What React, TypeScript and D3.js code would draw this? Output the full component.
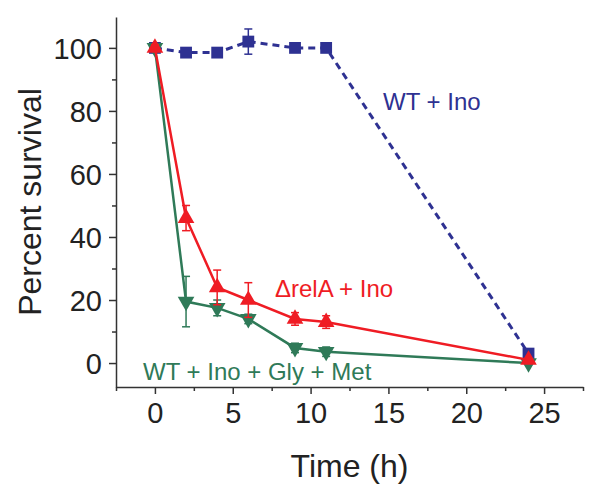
import React, { useEffect, useRef } from 'react';
import * as d3 from 'd3';

// Time points (h)
const times = [0, 2, 4, 6, 9, 11, 24];

// WT + Ino
const wtIno = [100, 98.5, 98.5, 102, 100, 100, 3];
const wtInoErr = [1, 0.8, 0.8, 4, 0.8, 0.8, 1];

// ΔrelA + Ino
const relA = [100, 46, 24, 20, 14, 13, 1];
const relAErr = [1, 4, 5.5, 5.5, 2, 2, 0.5];

// WT + Ino + Gly + Met
const wtGlyMet = [100, 19.5, 17.5, 14, 4.8, 3.6, 0];
const wtGlyMetErr = [1, 8, 2.5, 1.5, 1.5, 1.5, 0.5];

const xTicks = [0, 5, 10, 15, 20, 25];
const yTicks = [0, 20, 40, 60, 80, 100];

const App = () => {
  const svgRef = useRef<SVGSVGElement | null>(null);

  useEffect(() => {
    if (!svgRef.current) return;
    const svg = d3.select(svgRef.current);
    svg.selectAll('*').remove();

    const font = '"Liberation Sans", Arial, sans-serif';
    const x = d3.scaleLinear().domain([-2.5, 27.5]).range([116, 583]);
    const y = d3.scaleLinear().domain([-7.6, 109.8]).range([387, 17]);

    // Axes
    const xAxis = svg
      .append('g')
      .attr('transform', `translate(0,${y(-7.6)})`)
      .call(d3.axisBottom(x).tickValues(xTicks).tickSize(7).tickSizeOuter(0).tickPadding(6));
    const xMinor = svg
      .append('g')
      .attr('transform', `translate(0,${y(-7.6)})`)
      .call(d3.axisBottom(x).tickValues(d3.range(-2.5, 28, 5)).tickSize(4).tickSizeOuter(0).tickFormat(() => ''));
    xMinor.select('.domain').remove();

    const yAxis = svg
      .append('g')
      .attr('transform', `translate(${x(-2.5)},0)`)
      .call(d3.axisLeft(y).tickValues(yTicks).tickSize(7).tickSizeOuter(0).tickPadding(7));
    const yMinor = svg
      .append('g')
      .attr('transform', `translate(${x(-2.5)},0)`)
      .call(d3.axisLeft(y).tickValues([10, 30, 50, 70, 90]).tickSize(4).tickSizeOuter(0).tickFormat(() => ''));
    yMinor.select('.domain').remove();

    [xAxis, yAxis, xMinor, yMinor].forEach(g => {
      g.selectAll('path,line').attr('stroke', '#333').attr('stroke-width', 1.5);
      g.selectAll('text').style('font-family', font).style('font-size', '29px').attr('fill', '#222');
    });
    xAxis.selectAll('text').attr('dy', '0.8em');
    yAxis.selectAll('text').attr('dy', '0.35em');

    // Axis titles
    svg
      .append('text')
      .attr('x', (x(-2.5) + x(27.5)) / 2)
      .attr('y', 477)
      .attr('text-anchor', 'middle')
      .style('font-family', font)
      .style('font-size', '32px')
      .attr('fill', '#222')
      .text('Time (h)');
    svg
      .append('text')
      .attr('transform', `translate(41,${(y(-7.6) + y(109.8)) / 2}) rotate(-90)`)
      .attr('text-anchor', 'middle')
      .style('font-family', font)
      .style('font-size', '32px')
      .attr('fill', '#222')
      .text('Percent survival');

    const line = d3
      .line<number>()
      .x((d, i) => x(times[i]))
      .y(d => y(d));

    const drawSeries = (
      vals: number[],
      errs: number[],
      color: string,
      symbol: d3.SymbolType,
      size: number,
      rotate: number,
      dash: string | null
    ) => {
      const g = svg.append('g');
      g.append('path')
        .datum(vals)
        .attr('fill', 'none')
        .attr('stroke', color)
        .attr('stroke-width', dash ? 3 : 2.5)
        .attr('stroke-dasharray', dash)
        .attr('d', line);

      // error bars
      vals.forEach((v, i) => {
        const cx = x(times[i]);
        const top = y(v + errs[i]);
        const bot = y(v - errs[i]);
        g.append('line').attr('x1', cx).attr('x2', cx).attr('y1', top).attr('y2', bot)
          .attr('stroke', color).attr('stroke-width', 1.5);
        [top, bot].forEach(yy => {
          g.append('line').attr('x1', cx - 4).attr('x2', cx + 4).attr('y1', yy).attr('y2', yy)
            .attr('stroke', color).attr('stroke-width', 1.5);
        });
      });

      g.selectAll('path.mark')
        .data(vals)
        .enter()
        .append('path')
        .attr('class', 'mark')
        .attr('d', d3.symbol().type(symbol).size(size)())
        .attr('transform', (d, i) => `translate(${x(times[i])},${y(d)}) rotate(${rotate})`)
        .attr('fill', color);
    };

    drawSeries(wtIno, wtInoErr, '#2e3192', d3.symbolSquare, 140, 0, '7,5');
    drawSeries(wtGlyMet, wtGlyMetErr, '#2f7a58', d3.symbolTriangle, 120, 180, null);
    drawSeries(relA, relAErr, '#ef1c24', d3.symbolTriangle, 120, 0, null);

    // Series labels
    const labels = [
      { text: 'WT + Ino', x: 383, y: 110, color: '#2e3192' },
      { text: '\u0394relA + Ino', x: 275, y: 297, color: '#ef1c24' },
      { text: 'WT + Ino + Gly + Met', x: 143, y: 380, color: '#2f7a58' },
    ];
    labels.forEach(l => {
      svg
        .append('text')
        .attr('x', l.x)
        .attr('y', l.y)
        .style('font-family', font)
        .style('font-size', '24px')
        .attr('fill', l.color)
        .text(l.text);
    });
  }, []);

  return (
    <svg
      ref={svgRef}
      width={602}
      height={499}
      style={{ position: 'absolute', left: 0, top: 0, background: '#fff' }}
    />
  );
};

export default App;
